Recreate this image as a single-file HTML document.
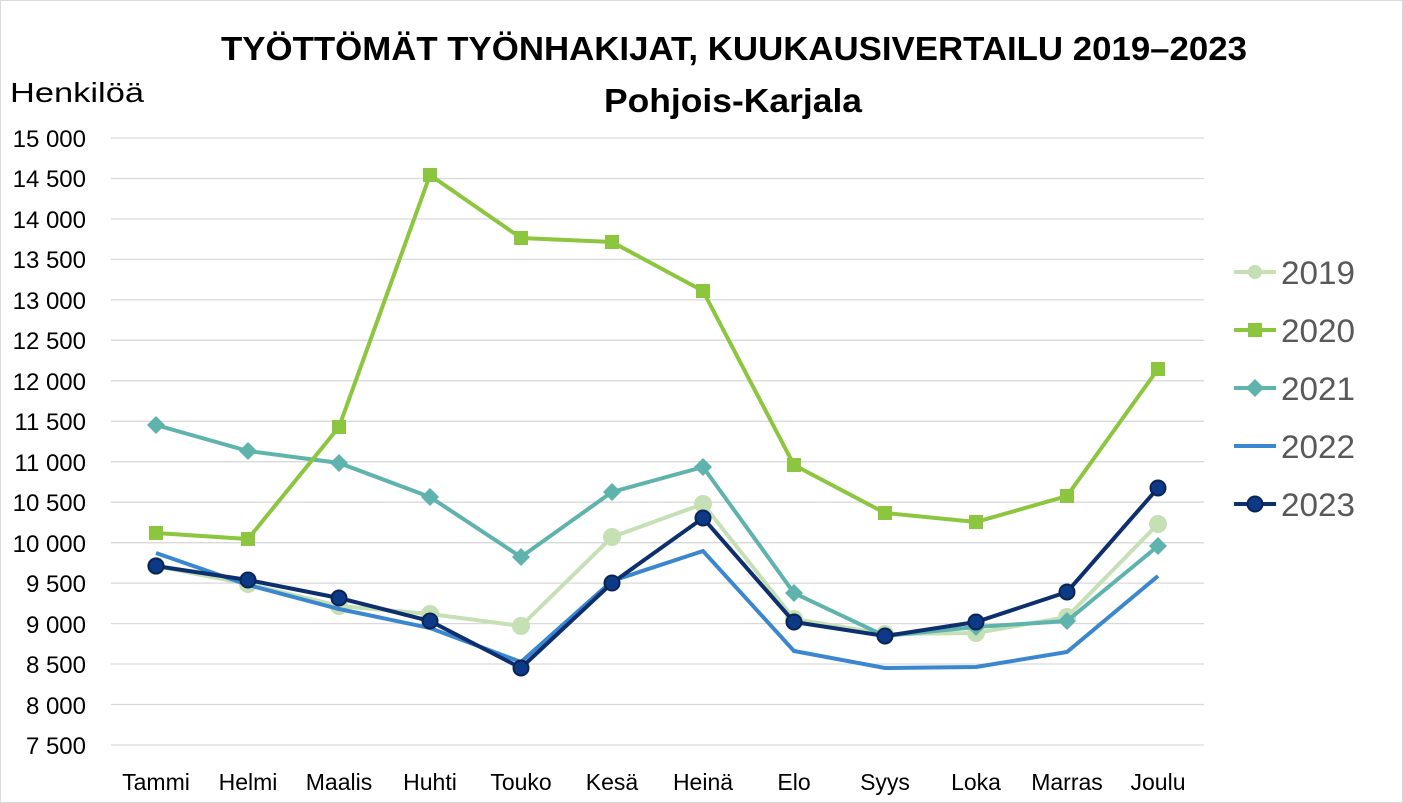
<!DOCTYPE html>
<html><head><meta charset="utf-8"><style>
html,body{margin:0;padding:0;background:#fff}
svg{display:block;font-family:"Liberation Sans",Arial,sans-serif}
</style></head><body>
<svg width="1403" height="803" viewBox="0 0 1403 803" xmlns="http://www.w3.org/2000/svg">
<rect x="0.5" y="0.5" width="1402" height="802" fill="#fff" stroke="#d9d9d9"/>
<text x="221" y="60" font-size="33" font-weight="bold" fill="#000" textLength="1026" lengthAdjust="spacingAndGlyphs">TYÖTTÖMÄT TYÖNHAKIJAT, KUUKAUSIVERTAILU 2019–2023</text>
<text x="604" y="112" font-size="33" font-weight="bold" fill="#000" textLength="258" lengthAdjust="spacingAndGlyphs">Pohjois-Karjala</text>
<text x="10" y="102" font-size="28" fill="#000" textLength="134" lengthAdjust="spacingAndGlyphs">Henkilöä</text>
<g stroke="#d9d9d9" stroke-width="1.3">
<line x1="111" x2="1204" y1="138" y2="138"/><line x1="111" x2="1204" y1="178.5" y2="178.5"/><line x1="111" x2="1204" y1="219" y2="219"/><line x1="111" x2="1204" y1="259.4" y2="259.4"/><line x1="111" x2="1204" y1="299.9" y2="299.9"/><line x1="111" x2="1204" y1="340.3" y2="340.3"/><line x1="111" x2="1204" y1="380.8" y2="380.8"/><line x1="111" x2="1204" y1="421.3" y2="421.3"/><line x1="111" x2="1204" y1="461.7" y2="461.7"/><line x1="111" x2="1204" y1="502.2" y2="502.2"/><line x1="111" x2="1204" y1="542.7" y2="542.7"/><line x1="111" x2="1204" y1="583.1" y2="583.1"/><line x1="111" x2="1204" y1="623.6" y2="623.6"/><line x1="111" x2="1204" y1="664" y2="664"/><line x1="111" x2="1204" y1="704.5" y2="704.5"/><line x1="111" x2="1204" y1="745" y2="745"/>
</g>
<g font-size="24" fill="#000" text-anchor="end">
<text x="86" y="147">15 000</text><text x="86" y="187">14 500</text><text x="86" y="228">14 000</text><text x="86" y="268">13 500</text><text x="86" y="309">13 000</text><text x="86" y="349">12 500</text><text x="86" y="390">12 000</text><text x="86" y="430">11 500</text><text x="86" y="471">11 000</text><text x="86" y="511">10 500</text><text x="86" y="552">10 000</text><text x="86" y="592">9 500</text><text x="86" y="633">9 000</text><text x="86" y="673">8 500</text><text x="86" y="714">8 000</text><text x="86" y="754">7 500</text>
</g>
<g font-size="23" fill="#000" text-anchor="middle">
<text x="156" y="790">Tammi</text><text x="248" y="790">Helmi</text><text x="339" y="790">Maalis</text><text x="430" y="790">Huhti</text><text x="521" y="790">Touko</text><text x="612" y="790">Kesä</text><text x="703" y="790">Heinä</text><text x="794" y="790">Elo</text><text x="885" y="790">Syys</text><text x="976" y="790">Loka</text><text x="1067" y="790">Marras</text><text x="1158" y="790">Joulu</text>
</g>
<!-- 2019 -->
<g fill="#c5e0b4" stroke="#c5e0b4" stroke-width="4">
<polyline fill="none" points="156,566 248,584 339,606 430,614 521,626 612,537 703,504 794,619 885,634 976,633 1067,617 1158,524"/>
<circle cx="156" cy="566" r="7"/><circle cx="248" cy="584" r="7"/><circle cx="339" cy="606" r="7"/><circle cx="430" cy="614" r="7"/><circle cx="521" cy="626" r="7"/><circle cx="612" cy="537" r="7"/><circle cx="703" cy="504" r="7"/><circle cx="794" cy="619" r="7"/><circle cx="885" cy="634" r="7"/><circle cx="976" cy="633" r="7"/><circle cx="1067" cy="617" r="7"/><circle cx="1158" cy="524" r="7"/>
</g>
<!-- 2021 -->
<g fill="#5fb3ad" stroke="#5fb3ad" stroke-width="4">
<polyline fill="none" points="156,425 248,451 339,463 430,497 521,557 612,492 703,467 794,593 885,636 976,627 1067,621 1158,546"/>
<g stroke="none">
<polygon points="156,416 165,425 156,434 147,425"/><polygon points="248,442 257,451 248,460 239,451"/><polygon points="339,454 348,463 339,472 330,463"/><polygon points="430,488 439,497 430,506 421,497"/><polygon points="521,548 530,557 521,566 512,557"/><polygon points="612,483 621,492 612,501 603,492"/><polygon points="703,458 712,467 703,476 694,467"/><polygon points="794,584 803,593 794,602 785,593"/><polygon points="885,627 894,636 885,645 876,636"/><polygon points="976,618 985,627 976,636 967,627"/><polygon points="1067,612 1076,621 1067,630 1058,621"/><polygon points="1158,537 1167,546 1158,555 1149,546"/>
</g></g>
<!-- 2022 -->
<polyline fill="none" stroke="#3a87d0" stroke-width="4" points="156,553 248,585 339,609 430,628 521,662 612,581 703,551 794,651 885,668 976,667 1067,652 1158,576"/>
<!-- 2020 -->
<g fill="#8cc63e" stroke="#8cc63e" stroke-width="4">
<polyline fill="none" points="156,533 248,539 339,427 430,175 521,238 612,242 703,291 794,465 885,513 976,522 1067,496 1158,369"/>
<g stroke="none">
<rect x="149" y="526" width="14" height="14"/><rect x="241" y="532" width="14" height="14"/><rect x="332" y="420" width="14" height="14"/><rect x="423" y="168" width="14" height="14"/><rect x="514" y="231" width="14" height="14"/><rect x="605" y="235" width="14" height="14"/><rect x="696" y="284" width="14" height="14"/><rect x="787" y="458" width="14" height="14"/><rect x="878" y="506" width="14" height="14"/><rect x="969" y="515" width="14" height="14"/><rect x="1060" y="489" width="14" height="14"/><rect x="1151" y="362" width="14" height="14"/>
</g></g>
<!-- 2023 -->
<g fill="#0d2f6e" stroke="#0d2f6e" stroke-width="4">
<polyline fill="none" points="156,566 248,580 339,598 430,621 521,668 612,583 703,518 794,622 885,636 976,622 1067,592 1158,488"/>
<g fill="#0d3a87" stroke="#0a2455" stroke-width="2">
<circle cx="156" cy="566" r="7.5"/><circle cx="248" cy="580" r="7.5"/><circle cx="339" cy="598" r="7.5"/><circle cx="430" cy="621" r="7.5"/><circle cx="521" cy="668" r="7.5"/><circle cx="612" cy="583" r="7.5"/><circle cx="703" cy="518" r="7.5"/><circle cx="794" cy="622" r="7.5"/><circle cx="885" cy="636" r="7.5"/><circle cx="976" cy="622" r="7.5"/><circle cx="1067" cy="592" r="7.5"/><circle cx="1158" cy="488" r="7.5"/>
</g></g>
<!-- legend -->
<g font-size="32" fill="#595959">
<line x1="1234" x2="1276" y1="272" y2="272" stroke="#c5e0b4" stroke-width="4"/><circle cx="1255" cy="272" r="7" fill="#c5e0b4"/><text x="1281" y="284" textLength="74" lengthAdjust="spacingAndGlyphs">2019</text>
<line x1="1234" x2="1276" y1="330" y2="330" stroke="#8cc63e" stroke-width="4"/><rect x="1248" y="323" width="14" height="14" fill="#8cc63e"/><text x="1281" y="342" textLength="74" lengthAdjust="spacingAndGlyphs">2020</text>
<line x1="1234" x2="1276" y1="388" y2="388" stroke="#5fb3ad" stroke-width="4"/><polygon points="1255,379 1264,388 1255,397 1246,388" fill="#5fb3ad"/><text x="1281" y="400" textLength="74" lengthAdjust="spacingAndGlyphs">2021</text>
<line x1="1234" x2="1276" y1="446" y2="446" stroke="#3a87d0" stroke-width="4"/><text x="1281" y="458" textLength="74" lengthAdjust="spacingAndGlyphs">2022</text>
<line x1="1234" x2="1276" y1="504" y2="504" stroke="#0d2f6e" stroke-width="4"/><circle cx="1255" cy="504" r="7.5" fill="#0d3a87" stroke="#0a2455" stroke-width="2"/><text x="1281" y="516" textLength="74" lengthAdjust="spacingAndGlyphs">2023</text>
</g>
</svg>
</body></html>
